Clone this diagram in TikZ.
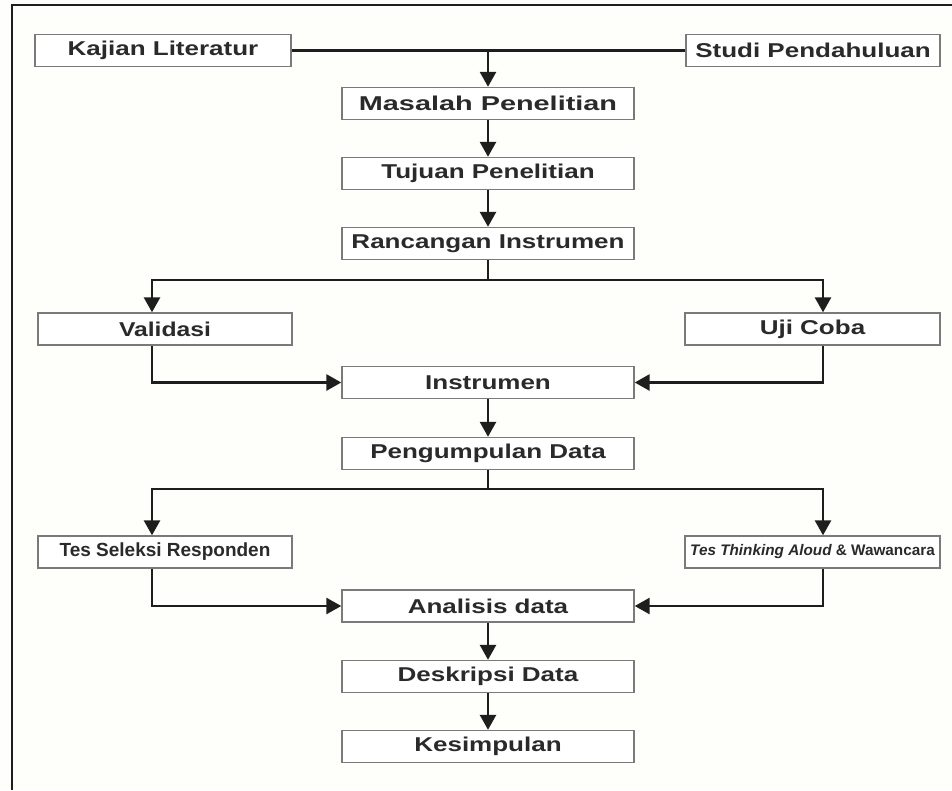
\documentclass[tikz,border=0pt]{standalone}
\usepackage{fontspec}
\usepackage{graphicx}
\setmainfont{Liberation Sans}
\newfontfamily\boxfont{Liberation Sans}[FakeStretch=1.3]
\usetikzlibrary{arrows.meta}
\definecolor{bg}{HTML}{FEFEFA}
\definecolor{boxline}{HTML}{7A7A7A}
\definecolor{txt}{HTML}{2A2A2A}
\definecolor{ln}{HTML}{1E1E1E}
\begin{document}
\begin{tikzpicture}[x=1pt,y=-1pt,
  box/.style={draw=boxline,line width=1.4pt,fill=white,minimum height=32pt,inner sep=0pt,text=txt,
    font=\boxfont\bfseries\fontsize{20}{24}\selectfont},
  smallbox/.style={box,font=\bfseries\fontsize{19}{22}\selectfont},
  tinybox/.style={box,font=\bfseries\fontsize{15.3}{18}\selectfont},
  flow/.style={draw=ln,line width=2.8pt,-{Triangle[width=16pt,length=15pt]}},
  plain/.style={draw=ln,line width=2.8pt}]
\fill[bg] (0,0) rectangle (952,790);
\useasboundingbox (0,0) rectangle (952,790);
\draw[ln,line width=2pt] (952,5) -- (12,5) -- (12,790);

\node[box,minimum width=256pt] (kaj) at (163,50.5) {Kajian Literatur};
\node[box,minimum width=254pt] (stu) at (813,50.5) {Studi Pendahuluan};
\node[box,minimum width=292pt] (mas) at (488,103.5) {\scalebox{1.11}[1]{Masalah Penelitian}};
\node[box,minimum width=292pt] (tuj) at (488,173.5) {Tujuan Penelitian};
\node[box,minimum width=292pt] (ran) at (488,243.5) {Rancangan Instrumen};
\node[box,minimum width=254pt] (val) at (165,329) {\scalebox{0.95}[1]{Validasi}};
\node[box,minimum width=255pt] (uji) at (812.5,329) {Uji Coba};
\node[box,minimum width=292pt] (ins) at (488,382.5) {Instrumen};
\node[box,minimum width=292pt] (pen) at (488,453.5) {Pengumpulan Data};
\node[smallbox,minimum width=254pt] (tsr) at (165,552) {Tes Seleksi Responden};
\node[tinybox,minimum width=255pt] (tta) at (812.5,552) {{\itshape Tes Thinking Aloud} \& Wawancara};
\node[box,minimum width=292pt] (ana) at (488,606) {Analisis data};
\node[box,minimum width=292pt] (des) at (488,676.5) {Deskripsi Data};
\node[box,minimum width=292pt] (kes) at (488,746.5) {Kesimpulan};

\coordinate (bl) at (152,280);
\coordinate (br) at (823,280);
\coordinate (bl2) at (152,489);
\coordinate (br2) at (823,489);

\draw[plain] (kaj.east) -- (stu.west);
\draw[flow] (kaj.east -| mas.north) -- (mas.north);
\draw[flow] (mas) -- (tuj);
\draw[flow] (tuj) -- (ran);
\draw[flow] (ran.south) |- (bl) -- (bl |- val.north);
\draw[flow] (ran.south) |- (br) -- (br |- uji.north);
\draw[flow] (bl |- val.south) |- (ins.west);
\draw[flow] (br |- uji.south) |- (ins.east);
\draw[flow] (ins) -- (pen);
\draw[flow] (pen.south) |- (bl2) -- (bl2 |- tsr.north);
\draw[flow] (pen.south) |- (br2) -- (br2 |- tta.north);
\draw[flow] (bl2 |- tsr.south) |- (ana.west);
\draw[flow] (br2 |- tta.south) |- (ana.east);
\draw[flow] (ana) -- (des);
\draw[flow] (des) -- (kes);
\end{tikzpicture}
\end{document}
